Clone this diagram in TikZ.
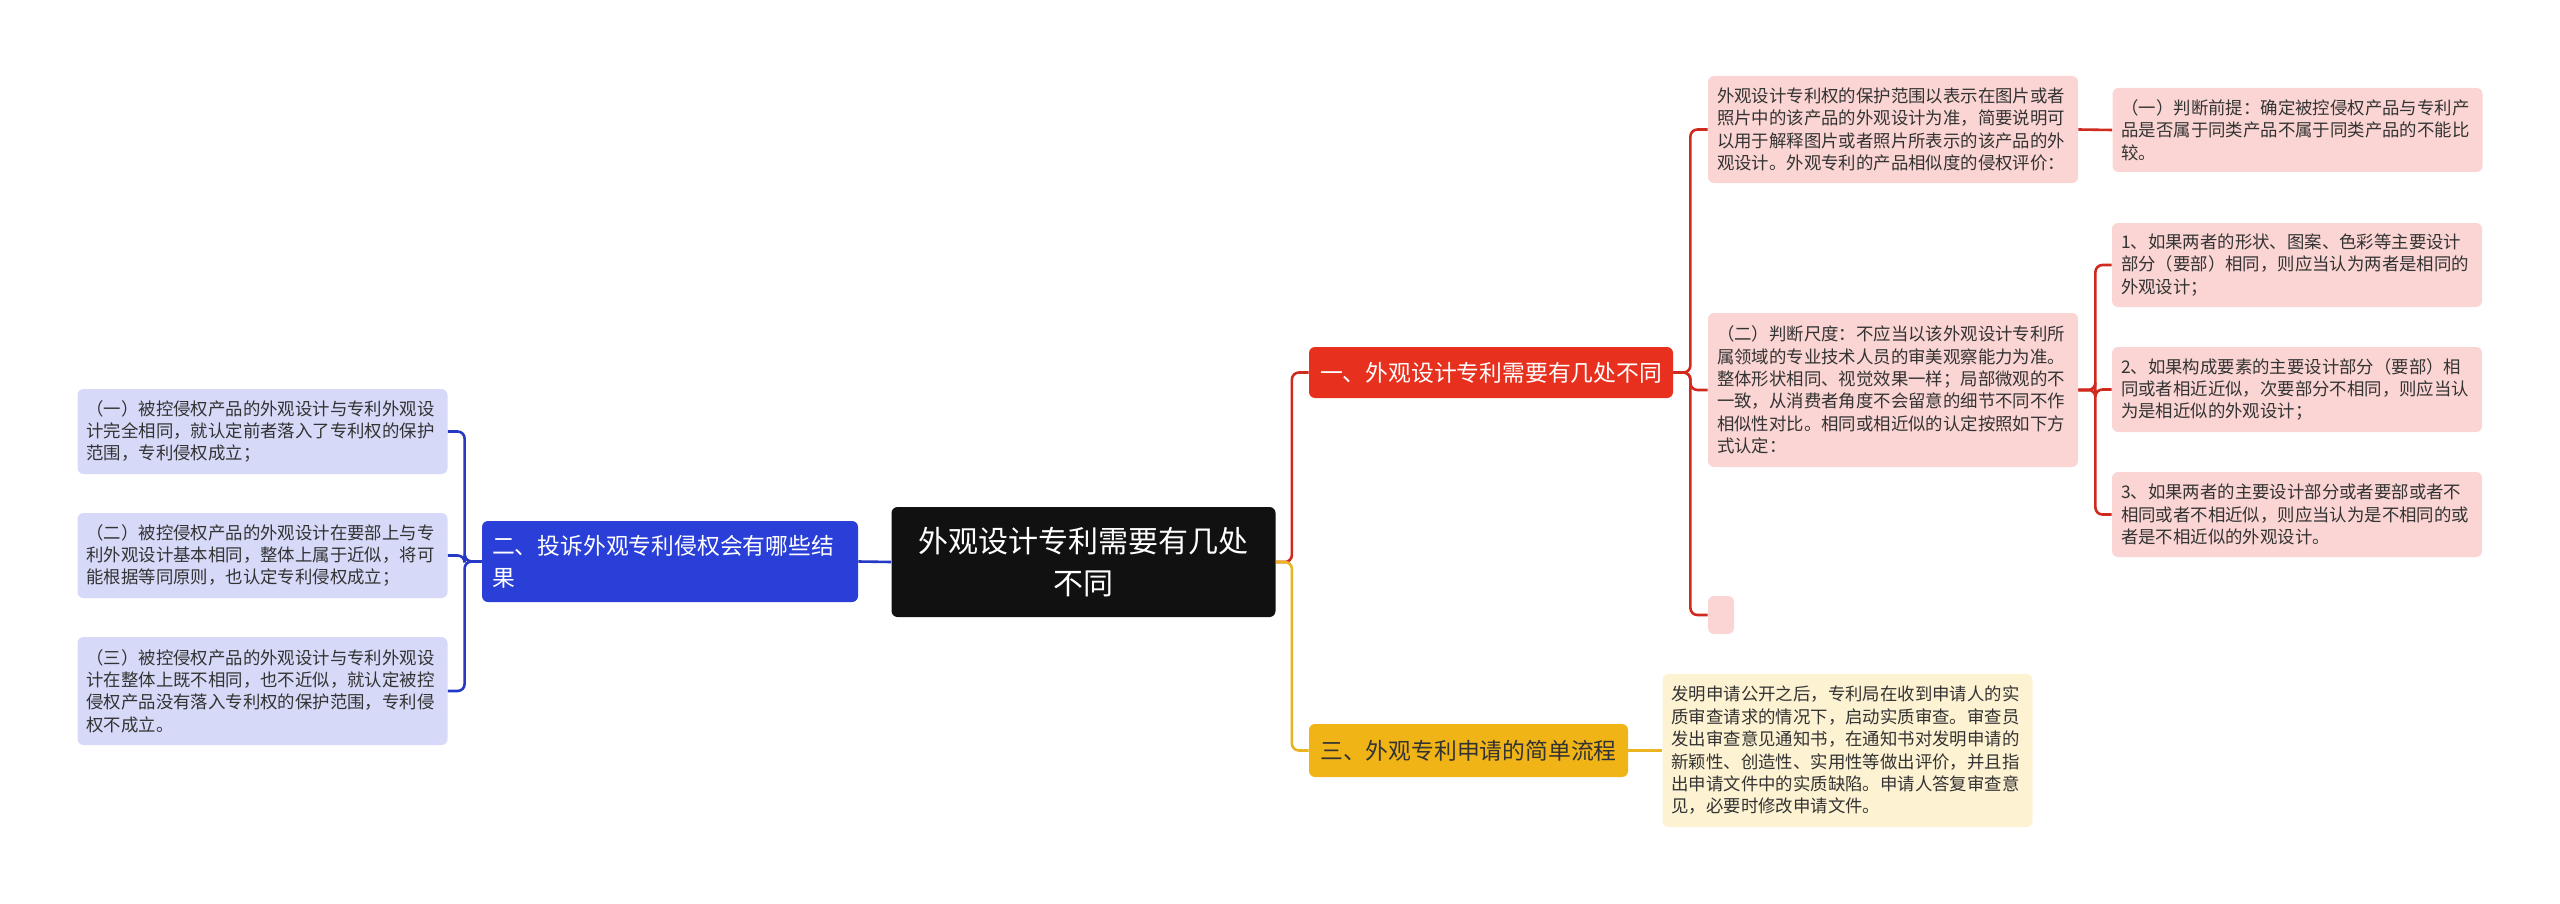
\documentclass[tikz,border=0pt]{standalone}
\usepackage{fontspec}
\setmainfont{Noto Sans CJK SC}
\usepackage{tikz}

\definecolor{rootblack}{HTML}{111111}
\definecolor{redfill}{HTML}{E7301D}
\definecolor{redline}{HTML}{D02A1E}
\definecolor{pinkfill}{HTML}{FAD5D3}
\definecolor{bluefill}{HTML}{2A3FD7}
\definecolor{blueline}{HTML}{2638C6}
\definecolor{lavender}{HTML}{D6D9F7}
\definecolor{yellowfill}{HTML}{F0B416}
\definecolor{yellowline}{HTML}{EAB320}
\definecolor{creamfill}{HTML}{FDF2D2}
\definecolor{leaftext}{HTML}{333333}

\newcommand\rootfont{\fontsize{15}{21}\selectfont}
\newcommand\branchfont{\fontsize{11.4}{16}\selectfont}
\newcommand\leaffont{\fontsize{8.7}{11.2}\selectfont}

\begin{document}
\begin{tikzpicture} [x=0.5pt, y=-0.5pt,
				rootbox/.style={
				% The shape:
				rectangle, rounded corners=3pt,
				% The size:
      				minimum width=192pt, minimum height=55pt, inner sep=2pt,
				% The filling:
				fill=rootblack, text=white,
				% Font
				font=\rootfont, align=center
    				},
				branch/.style={
				% The shape:
				rectangle, rounded corners=3pt,
				% The size:
      				minimum height=25.5pt, inner xsep=5pt, inner ysep=2pt,
				% Font
				font=\branchfont
    				},
				leaf/.style={
				% The shape:
				rectangle, rounded corners=3pt,
				% The size:
      				text width=176pt, inner xsep=4.5pt, inner ysep=2pt,
				% The filling:
				text=leaftext,
				% Font
				font=\leaffont, align=left
    				},
				link/.style={line width=1.3pt, rounded corners=3.5pt},
				]
    \useasboundingbox (0,0) rectangle (2560,904);
    % centre
    \node [rootbox] (root) at (1083.5,562) {外观设计专利需要有几处\\不同};
    % main branches
    \node [branch, fill=redfill, text=white, minimum width=182pt] (one) at (1491,372.5) {一、外观设计专利需要有几处不同};
    \node [branch, fill=bluefill, text=white, text width=178pt, minimum height=40.5pt, align=left] (two) at (670,561.5) {二、投诉外观专利侵权会有哪些结\\果};
    \node [branch, fill=yellowfill, text=leaftext, minimum width=159.5pt, minimum height=26.5pt] (three) at (1468.5,750.5) {三、外观专利申请的简单流程};
    % red side
    \node [leaf, fill=pinkfill, minimum height=53.5pt] (onea) at (1893,129.5) {外观设计专利权的保护范围以表示在图片或者\\照片中的该产品的外观设计为准，简要说明可\\以用于解释图片或者照片所表示的该产品的外\\观设计。外观专利的产品相似度的侵权评价：};
    \node [leaf, fill=pinkfill, minimum height=42pt] (oneaa) at (2297.5,130) {（一）判断前提：确定被控侵权产品与专利产\\品是否属于同类产品不属于同类产品的不能比\\较。};
    \node [leaf, fill=pinkfill, minimum height=77pt] (oneb) at (1893,390) {（二）判断尺度：不应当以该外观设计专利所\\属领域的专业技术人员的审美观察能力为准。\\整体形状相同、视觉效果一样；局部微观的不\\一致，从消费者角度不会留意的细节不同不作\\相似性对比。相同或相近似的认定按照如下方\\式认定：};
    \node [rectangle, rounded corners=3pt, fill=pinkfill, minimum width=13pt, minimum height=19pt, inner sep=0pt] (onec) at (1721,615) {};
    \node [leaf, fill=pinkfill, minimum height=42pt] (oneb1) at (2297,265) {1、如果两者的形状、图案、色彩等主要设计\\部分（要部）相同，则应当认为两者是相同的\\外观设计；};
    \node [leaf, fill=pinkfill, minimum height=42.5pt] (oneb2) at (2297,389.5) {2、如果构成要素的主要设计部分（要部）相\\同或者相近近似，次要部分不相同，则应当认\\为是相近似的外观设计；};
    \node [leaf, fill=pinkfill, minimum height=42.5pt] (oneb3) at (2297,514.5) {3、如果两者的主要设计部分或者要部或者不\\相同或者不相近似，则应当认为是不相同的或\\者是不相近似的外观设计。};
    % blue side
    \node [leaf, fill=lavender, minimum height=42.5pt] (twoa) at (262.5,431.5) {（一）被控侵权产品的外观设计与专利外观设\\计完全相同，就认定前者落入了专利权的保护\\范围，专利侵权成立；};
    \node [leaf, fill=lavender, minimum height=42.5pt] (twob) at (262.5,555.5) {（二）被控侵权产品的外观设计在要部上与专\\利外观设计基本相同，整体上属于近似，将可\\能根据等同原则，也认定专利侵权成立；};
    \node [leaf, fill=lavender, minimum height=54pt] (twoc) at (262.5,691) {（三）被控侵权产品的外观设计与专利外观设\\计在整体上既不相同，也不近似，就认定被控\\侵权产品没有落入专利权的保护范围，专利侵\\权不成立。};
    % yellow side
    \node [leaf, fill=creamfill, minimum height=76.5pt] (threea) at (1847.5,750.5) {发明申请公开之后，专利局在收到申请人的实\\质审查请求的情况下，启动实质审查。审查员\\发出审查意见通知书，在通知书对发明申请的\\新颖性、创造性、实用性等做出评价，并且指\\出申请文件中的实质缺陷。申请人答复审查意\\见，必要时修改申请文件。};

    % connectors
    \draw [link, redline] (root.east) -- ++(16,0) |- (one.west);
    \draw [link, yellowline] (root.east) -- ++(16,0) |- (three.west);
    \draw [link, blueline] (root.west) -- (two.east);
    \foreach \n in {onea,oneb,onec}
        \draw [link, redline] (one.east) -- ++(17,0) |- (\n.west);
    \draw [link, redline] (onea.east) -- (oneaa.west);
    \foreach \n in {oneb1,oneb2,oneb3}
        \draw [link, redline] (oneb.east) -- ++(17,0) |- (\n.west);
    \foreach \n in {twoa,twob,twoc}
        \draw [link, blueline] (two.west) -- ++(-17,0) |- (\n.east);
    \draw [link, yellowline] (three.east) -- (threea.west);
\end{tikzpicture}
\end{document}
